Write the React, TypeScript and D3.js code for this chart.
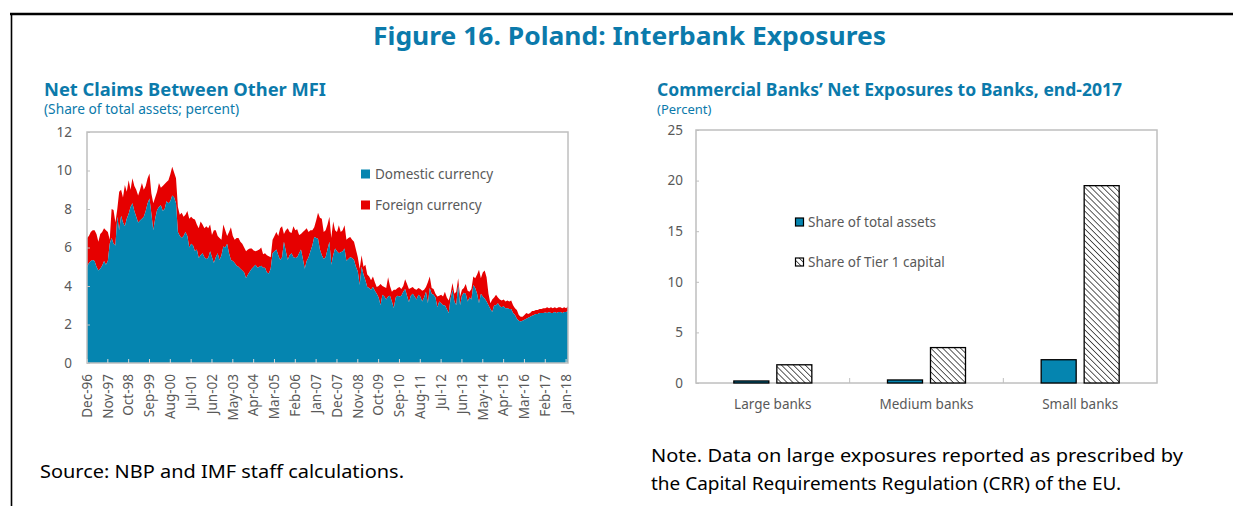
import React, { useEffect, useRef } from "react";
import * as d3 from "d3";

// Net claims between other MFI, monthly from Dec-96 (share of total assets, percent)
const domestic = [
  5.0, 5.2, 5.3, 5.35, 5.3, 5.0, 4.8, 4.9, 5.05, 5.3, 5.1, 5.3,
  6.2, 6.5, 6.2, 6.1, 7.6, 6.9, 7.65, 7.3, 7.1, 7.5, 7.75, 8.1,
  8.3, 7.9, 7.6, 7.3, 7.4, 7.5, 7.6, 7.9, 8.3, 8.55, 7.75, 6.9,
  7.5, 7.95, 8.1, 8.2, 7.9, 8.0, 8.4, 8.3, 8.4, 8.7, 8.6, 8.3,
  6.8, 6.6, 6.5, 6.6, 6.8, 6.6, 6.0, 6.2, 6.1, 5.8, 5.9, 5.45,
  5.6, 5.7, 5.5, 5.4, 5.45, 5.8, 5.5, 5.2, 5.5, 5.7, 5.35, 5.6,
  6.05, 6.0, 6.2, 5.7, 5.35, 5.3, 5.2, 5.05, 5.0, 4.9, 4.8, 4.7,
  4.4, 4.6, 4.75, 4.9, 5.0, 5.1, 4.95, 5.0, 5.05, 4.95, 4.95, 4.7,
  4.65, 4.9, 5.7, 5.8, 5.9, 5.6, 5.35, 5.5, 6.3, 5.8, 5.35, 5.6,
  5.7, 5.5, 5.45, 5.5, 5.7, 5.9, 5.4, 4.9, 5.3, 5.5, 5.8, 6.1,
  6.55, 6.5, 6.45, 5.9, 5.6, 5.4, 5.5, 5.9, 6.3, 5.1, 5.6, 5.95,
  5.8, 5.7, 5.75, 5.8, 5.95, 5.3, 5.4, 5.5, 5.45, 5.35, 5.0, 4.75,
  4.05, 5.0, 4.6, 4.3, 3.95, 3.9, 3.8, 3.95, 3.75, 3.6, 3.4, 3.0,
  3.55, 3.45, 3.3, 3.45, 3.5, 3.2, 2.85, 3.4, 3.5, 3.45, 3.5, 3.7,
  3.85, 3.5, 3.15, 3.5, 3.6, 3.45, 3.3, 3.55, 3.45, 3.2, 3.4, 3.7,
  3.1, 3.9, 3.6, 3.55, 3.4, 2.9, 3.2, 3.1, 3.0, 3.0, 2.8, 2.6,
  3.35, 3.8, 3.2, 3.0, 4.05, 3.0, 3.5, 3.65, 3.6, 3.2, 3.4, 3.3,
  4.05, 3.9, 3.6, 3.1, 3.6, 3.45, 3.35, 3.2, 3.0, 2.8, 2.65, 3.0,
  3.0, 3.1, 2.95, 2.9, 2.95, 2.85, 2.85, 2.8, 2.8, 2.6, 2.5, 2.3,
  2.2, 2.15, 2.2, 2.25, 2.3, 2.35, 2.4, 2.45, 2.5, 2.55, 2.55, 2.6,
  2.6, 2.6, 2.62, 2.6, 2.65, 2.6, 2.6, 2.65, 2.6, 2.65, 2.65, 2.6,
  2.65, 2.65, 2.7,
];

const foreign = [
  1.5, 1.4, 1.5, 1.55, 1.6, 1.7, 1.5, 1.8, 1.75, 1.7, 1.8, 1.5,
  0.2, 1.5, 1.75, 1.2, 0.4, 2.0, 1.35, 1.3, 2.15, 1.4, 1.75, 0.9,
  1.3, 1.3, 1.4, 1.4, 1.6, 1.85, 1.4, 1.3, 1.3, 1.3, 1.05, 1.4,
  1.1, 0.95, 1.25, 0.9, 1.3, 1.3, 1.0, 1.2, 1.4, 1.5, 1.3, 1.3,
  1.3, 1.1, 1.3, 1.0, 0.9, 1.3, 1.5, 1.4, 1.4, 1.65, 1.3, 1.55,
  1.75, 1.5, 1.5, 1.7, 1.55, 1.4, 1.15, 1.7, 1.4, 0.9, 1.15, 0.8,
  1.15, 0.9, 0.4, 1.1, 1.7, 1.3, 1.2, 1.45, 1.5, 1.4, 1.4, 1.3,
  1.4, 1.3, 1.2, 1.05, 0.85, 0.7, 0.9, 0.9, 0.95, 0.7, 0.75, 0.9,
  0.9, 0.6, 0.7, 0.8, 0.9, 1.0, 1.65, 1.6, 0.4, 1.1, 1.65, 1.2,
  1.05, 1.6, 1.45, 1.45, 0.95, 0.8, 1.4, 2.0, 1.7, 1.3, 1.1, 0.8,
  0.5, 0.9, 1.35, 1.65, 1.9, 1.4, 1.4, 1.3, 1.3, 1.4, 1.75, 0.95,
  1.0, 1.45, 1.05, 1.1, 1.2, 1.1, 1.1, 1.05, 0.95, 0.95, 0.9, 0.75,
  0.85, 0.6, 0.4, 0.8, 0.65, 0.6, 0.5, 0.55, 0.45, 0.35, 0.6, 1.1,
  0.45, 0.5, 0.6, 1.0, 0.5, 0.5, 0.95, 0.4, 0.4, 0.5, 0.35, 0.3,
  0.5, 0.6, 0.7, 0.4, 0.35, 0.4, 0.5, 0.35, 0.4, 0.55, 0.4, 0.25,
  1.1, 0.6, 0.3, 0.3, 0.2, 0.55, 0.3, 0.45, 0.45, 0.7, 0.6, 0.65,
  0.25, 0.35, 0.4, 0.7, 0.35, 0.45, 0.3, 0.25, 0.5, 0.55, 0.3, 0.55,
  0.45, 0.5, 1.0, 1.75, 0.8, 1.25, 1.45, 1.25, 0.6, 0.3, 0.65, 0.4,
  0.55, 0.3, 0.35, 0.35, 0.35, 0.35, 0.4, 0.4, 0.45, 0.4, 0.35, 0.45,
  0.3, 0.25, 0.2, 0.25, 0.3, 0.2, 0.2, 0.25, 0.2, 0.2, 0.2, 0.2,
  0.2, 0.25, 0.23, 0.3, 0.2, 0.3, 0.25, 0.25, 0.25, 0.25, 0.25, 0.25,
  0.25, 0.2, 0.25,
];

// one label every 11 months, starting Dec-96
const monthTicks = [
  "Dec-96", "Nov-97", "Oct-98", "Sep-99", "Aug-00", "Jul-01", "Jun-02", "May-03",
  "Apr-04", "Mar-05", "Feb-06", "Jan-07", "Dec-07", "Nov-08", "Oct-09", "Sep-10",
  "Aug-11", "Jul-12", "Jun-13", "May-14", "Apr-15", "Mar-16", "Feb-17", "Jan-18",
];
const leftYTicks = [0, 2, 4, 6, 8, 10, 12];

// Commercial banks' net exposures to banks, end-2017 (percent)
const bankGroups = ["Large banks", "Medium banks", "Small banks"];
const shareAssets = [0.2, 0.3, 2.3];
const shareTier1 = [1.8, 3.5, 19.5];
const rightYTicks = [0, 5, 10, 15, 20, 25];

const BLUE = "#0585b0";
const RED = "#e60000";
const TITLE = "#0b7aab";
const GREY = "#595959";
const FRAME = "#bfbfbf";
const FONT = "'Noto Sans', 'Open Sans', sans-serif";

const App = () => {
  const ref = useRef<SVGSVGElement>(null);

  useEffect(() => {
    if (!ref.current) return;
    const svg = d3.select(ref.current);
    svg.selectAll("*").remove();
    svg.style("font-family", FONT);

    // fixed-width text helper (the original font is wider than what we have)
    const label = (x: number, y: number, size: number, len: number, txt: string, fill: string, bold = false) =>
      svg.append("text").attr("x", x).attr("y", y).attr("font-size", size)
        .attr("font-weight", bold ? "bold" : "normal").attr("fill", fill)
        .attr("textLength", len).attr("lengthAdjust", "spacingAndGlyphs").text(txt);

    // hatch pattern
    const defs = svg.append("defs");
    const pat = defs
      .append("pattern")
      .attr("id", "hatch")
      .attr("patternUnits", "userSpaceOnUse")
      .attr("width", 4.2)
      .attr("height", 4.2)
      .attr("patternTransform", "rotate(-45)");
    pat.append("rect").attr("width", 4.2).attr("height", 4.2).attr("fill", "#fff");
    pat.append("line").attr("x1", 0).attr("y1", 0).attr("x2", 0).attr("y2", 4.2)
      .attr("stroke", "#333").attr("stroke-width", 1.6);

    // outer frame
    svg.append("line").attr("x1", 10).attr("x2", 1233).attr("y1", 14).attr("y2", 14)
      .attr("stroke", "#000").attr("stroke-width", 2.5);
    svg.append("line").attr("x1", 11.5).attr("x2", 11.5).attr("y1", 13).attr("y2", 506)
      .attr("stroke", "#000").attr("stroke-width", 1.6);

    label(373, 45, 25, 513, "Figure 16. Poland: Interbank Exposures", TITLE, true);

    // ---------- left chart ----------
    const lx0 = 87, lx1 = 568, ly0 = 132, ly1 = 363;
    const x = d3.scaleLinear().domain([0, domestic.length - 1]).range([lx0, lx1]);
    const y = d3.scaleLinear().domain([0, 12]).range([ly1, ly0]);

    label(44, 96, 17.5, 282, "Net Claims Between Other MFI", TITLE, true);
    label(44, 114, 13.5, 195, "(Share of total assets; percent)", TITLE);

    const idx = d3.range(domestic.length);
    const areaDom = d3.area<number>()
      .x((i) => x(i)).y0(y(0)).y1((i) => y(domestic[i]));
    const areaFor = d3.area<number>()
      .x((i) => x(i)).y0((i) => y(domestic[i])).y1((i) => y(domestic[i] + foreign[i]));
    svg.append("path").datum(idx).attr("d", areaFor).attr("fill", RED);
    svg.append("path").datum(idx).attr("d", areaDom).attr("fill", BLUE);

    svg.append("rect").attr("x", lx0).attr("y", ly0).attr("width", lx1 - lx0)
      .attr("height", ly1 - ly0).attr("fill", "none").attr("stroke", FRAME).attr("stroke-width", 1.5);

    const yAx = svg.append("g").attr("transform", `translate(${lx0},0)`)
      .call(d3.axisLeft(y).tickValues(leftYTicks).tickSize(-3).tickPadding(15));
    yAx.select(".domain").remove();
    yAx.selectAll("line").attr("stroke", FRAME);
    yAx.selectAll("text").attr("font-size", 13.5).attr("fill", GREY).attr("font-family", FONT);

    const tickIdx = monthTicks.map((_, k) => k * 11);
    svg.append("g").selectAll("line").data(tickIdx).join("line")
      .attr("x1", (i) => x(i)).attr("x2", (i) => x(i)).attr("y1", ly1).attr("y2", ly1 - 4)
      .attr("stroke", "#d9d9d9").attr("stroke-width", 1);
    svg.append("g").selectAll("text").data(monthTicks).join("text")
      .attr("transform", (_, k) => `translate(${x(tickIdx[k])},374) rotate(-90)`)
      .attr("text-anchor", "end").attr("dy", "0.35em")
      .attr("font-size", 13.5).attr("fill", GREY).text((d) => d);

    // legend
    const lLeg = [
      { label: "Domestic currency", color: BLUE, y: 174 },
      { label: "Foreign currency", color: RED, y: 205 },
    ];
    lLeg.forEach((d) => {
      svg.append("rect").attr("x", 361).attr("y", d.y - 4.5).attr("width", 9).attr("height", 9)
        .attr("fill", d.color);
      svg.append("text").attr("x", 375).attr("y", d.y).attr("dy", "0.35em")
        .attr("font-size", 13.5).attr("fill", GREY).text(d.label);
    });

    label(40, 478, 18, 364, "Source: NBP and IMF staff calculations.", "#000");

    // ---------- right chart ----------
    const rx0 = 696, rx1 = 1157, ry0 = 130, ry1 = 383;
    const xb = d3.scaleBand().domain(bankGroups).range([rx0, rx1]);
    const yb = d3.scaleLinear().domain([0, 25]).range([ry1, ry0]);
    const barW = 35, gap = 8;

    label(657, 96, 17.5, 465, "Commercial Banks\u2019 Net Exposures to Banks, end-2017", TITLE, true);
    svg.append("text").attr("x", 657).attr("y", 114).attr("font-size", 13)
      .attr("fill", TITLE).text("(Percent)");

    svg.append("rect").attr("x", rx0).attr("y", ry0).attr("width", rx1 - rx0)
      .attr("height", ry1 - ry0).attr("fill", "none").attr("stroke", FRAME).attr("stroke-width", 1.5);

    const rAx = svg.append("g").attr("transform", `translate(${rx0},0)`)
      .call(d3.axisLeft(yb).tickValues(rightYTicks).tickSize(-3).tickPadding(13));
    rAx.select(".domain").remove();
    rAx.selectAll("line").attr("stroke", FRAME);
    rAx.selectAll("text").attr("font-size", 13.5).attr("fill", GREY).attr("font-family", FONT);

    // category separators
    svg.append("g").selectAll("line").data(bankGroups.slice(1)).join("line")
      .attr("x1", (d) => xb(d)!).attr("x2", (d) => xb(d)!).attr("y1", ry1).attr("y2", ry1 - 5)
      .attr("stroke", FRAME);

    const center = (d: string) => xb(d)! + xb.bandwidth() / 2;
    svg.append("g").selectAll("rect").data(bankGroups).join("rect")
      .attr("x", (d) => center(d) - gap / 2 - barW)
      .attr("y", (_, i) => yb(shareAssets[i]))
      .attr("width", barW).attr("height", (_, i) => yb(0) - yb(shareAssets[i]))
      .attr("fill", BLUE).attr("stroke", "#000").attr("stroke-width", 1.3);
    svg.append("g").selectAll("rect").data(bankGroups).join("rect")
      .attr("x", (d) => center(d) + gap / 2)
      .attr("y", (_, i) => yb(shareTier1[i]))
      .attr("width", barW).attr("height", (_, i) => yb(0) - yb(shareTier1[i]))
      .attr("fill", "url(#hatch)").attr("stroke", "#000").attr("stroke-width", 1.3);

    svg.append("g").selectAll("text").data(bankGroups).join("text")
      .attr("x", (d) => center(d)).attr("y", 404).attr("dy", "0.35em").attr("text-anchor", "middle")
      .attr("font-size", 13.5).attr("fill", GREY).text((d) => d);

    const rLeg = [
      { label: "Share of total assets", fill: BLUE, y: 222 },
      { label: "Share of Tier 1 capital", fill: "url(#hatch)", y: 262 },
    ];
    rLeg.forEach((d) => {
      svg.append("rect").attr("x", 795.5).attr("y", d.y - 4).attr("width", 8).attr("height", 8)
        .attr("fill", d.fill).attr("stroke", "#000").attr("stroke-width", 1.2);
      svg.append("text").attr("x", 808).attr("y", d.y).attr("dy", "0.35em")
        .attr("font-size", 13.5).attr("fill", GREY).text(d.label);
    });

    label(651, 462, 18, 532, "Note. Data on large exposures reported as prescribed by", "#000");
    label(651, 490, 18, 470, "the Capital Requirements Regulation (CRR) of the EU.", "#000");
  }, []);

  return (
    <svg
      ref={ref}
      width={1233}
      height={506}
      style={{ position: "absolute", left: 0, top: 0, background: "#fff" }}
    />
  );
};

export default App;
